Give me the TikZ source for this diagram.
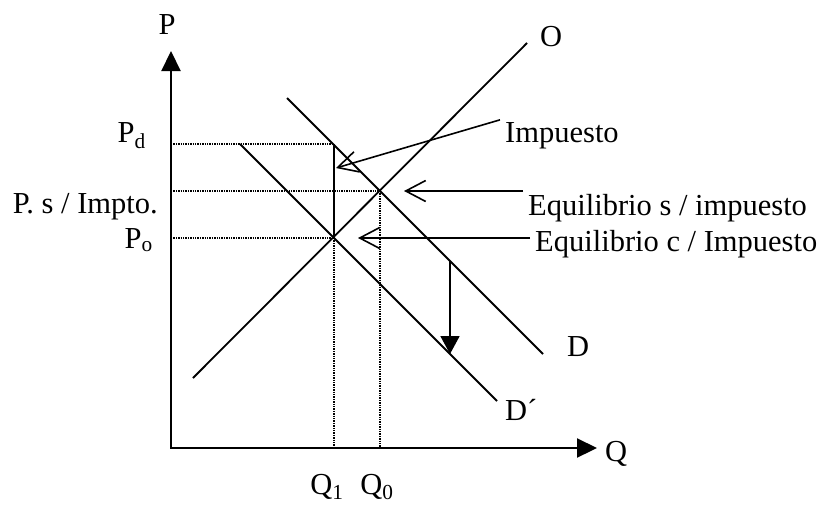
\documentclass[tikz,border=0pt]{standalone}
\usepackage{fontspec}
\setmainfont{Liberation Serif}
\usetikzlibrary{arrows.meta, positioning, calc}

\begin{document}
\begin{tikzpicture}[x=1pt, y=-1pt, font=\fontsize{30.5}{36}\selectfont]
    \tikzstyle{axisline} = [draw, line width=2.2pt, {Triangle[length=20pt, width=19pt]}-{Triangle[length=20pt, width=19pt]}]
    \tikzstyle{curve} = [draw, line width=1.8pt]
    \tikzstyle{guide} = [draw, densely dotted, line width=1.4pt]
    \tikzstyle{pointer} = [draw, line width=1.6pt, -{Straight Barb[length=20pt, width=21pt]}]
    \tikzstyle{drop} = [draw, line width=1.8pt, -{Triangle[length=18pt, width=19pt]}]
    \tikzstyle{note} = [inner xsep=5pt, inner ysep=2pt, anchor=base west]
    \tikzstyle{tick} = [inner sep=0pt]

    \useasboundingbox (0,0) rectangle (826,507);

    % puntos de equilibrio
    \coordinate (origin) at (171,448);
    \coordinate (E0) at (380,191);
    \coordinate (E1) at (334,238);
    \coordinate (Ed) at (334,144);

    % lineas de referencia
    \path [guide] (Ed -| origin) -- (Ed);
    \path [guide] (E0 -| origin) -- (E0);
    \path [guide] (E1 -| origin) -- (E1);
    \path [guide] (E1) -- (E1 |- origin);
    \path [guide] (E0) -- (E0 |- origin);
    \path [curve] (Ed) -- (E1);

    % oferta y demandas
    \coordinate (Sa) at (193,378);
    \coordinate (Sb) at (527,43);
    \coordinate (Da) at (287,98);
    \coordinate (Db) at (543,354);
    \coordinate (Dpa) at (240,144);
    \coordinate (Dpb) at (497,401);
    \path [curve] (Sa) -- (Sb);
    \path [curve] (Da) -- (Db);
    \path [curve] (Dpa) -- (Dpb);

    \coordinate (dropA) at (450,261);
    \coordinate (dropB) at (450,354);
    \path [drop] (dropA) -- (dropB);

    % ejes
    \coordinate (ptip) at (171,51);
    \coordinate (qtip) at (597,448);
    \path [axisline] (ptip) -- (origin) -- (qtip);

    \node [tick, anchor=base] (P) at (167,34) {P};
    \node [tick, anchor=base west] (Q) at (605,461) {Q};
    \node [tick, anchor=base east] (Pd) at (146,142) {P\textsubscript{d}};
    \node [tick, anchor=base east] (Ps) at (158,213) {P. s / Impto.};
    \node [tick, anchor=base east] (Po) at (153,248) {P\textsubscript{o}};
    \node [tick, anchor=base] (Q1) at (327,494) {Q\textsubscript{1}};
    \node [tick, anchor=base] (Q0) at (377,494) {Q\textsubscript{0}};
    \node [tick, anchor=base west] (O) at (540,46) {O};
    \node [tick, anchor=base west] (D) at (567,356) {D};
    \node [tick, anchor=base west] (Dp) at (505,420) {D´};

    % etiquetas
    \coordinate (tiptax) at (336,168);
    \coordinate (tipsin) at (404,191);
    \coordinate (tipcon) at (358,238);
    \node [note] (impuesto) at (500,142) {Impuesto};
    \node [note] (eqsin) at (523,215) {Equilibrio s / impuesto};
    \node [note] (eqcon) at (530,251) {Equilibrio c / Impuesto};
    \path [pointer] (impuesto.north west) -- (tiptax);
    \path [pointer] (tipsin -| eqsin.west) -- (tipsin);
    \path [pointer] (tipcon -| eqcon.west) -- (tipcon);
\end{tikzpicture}
\end{document}
